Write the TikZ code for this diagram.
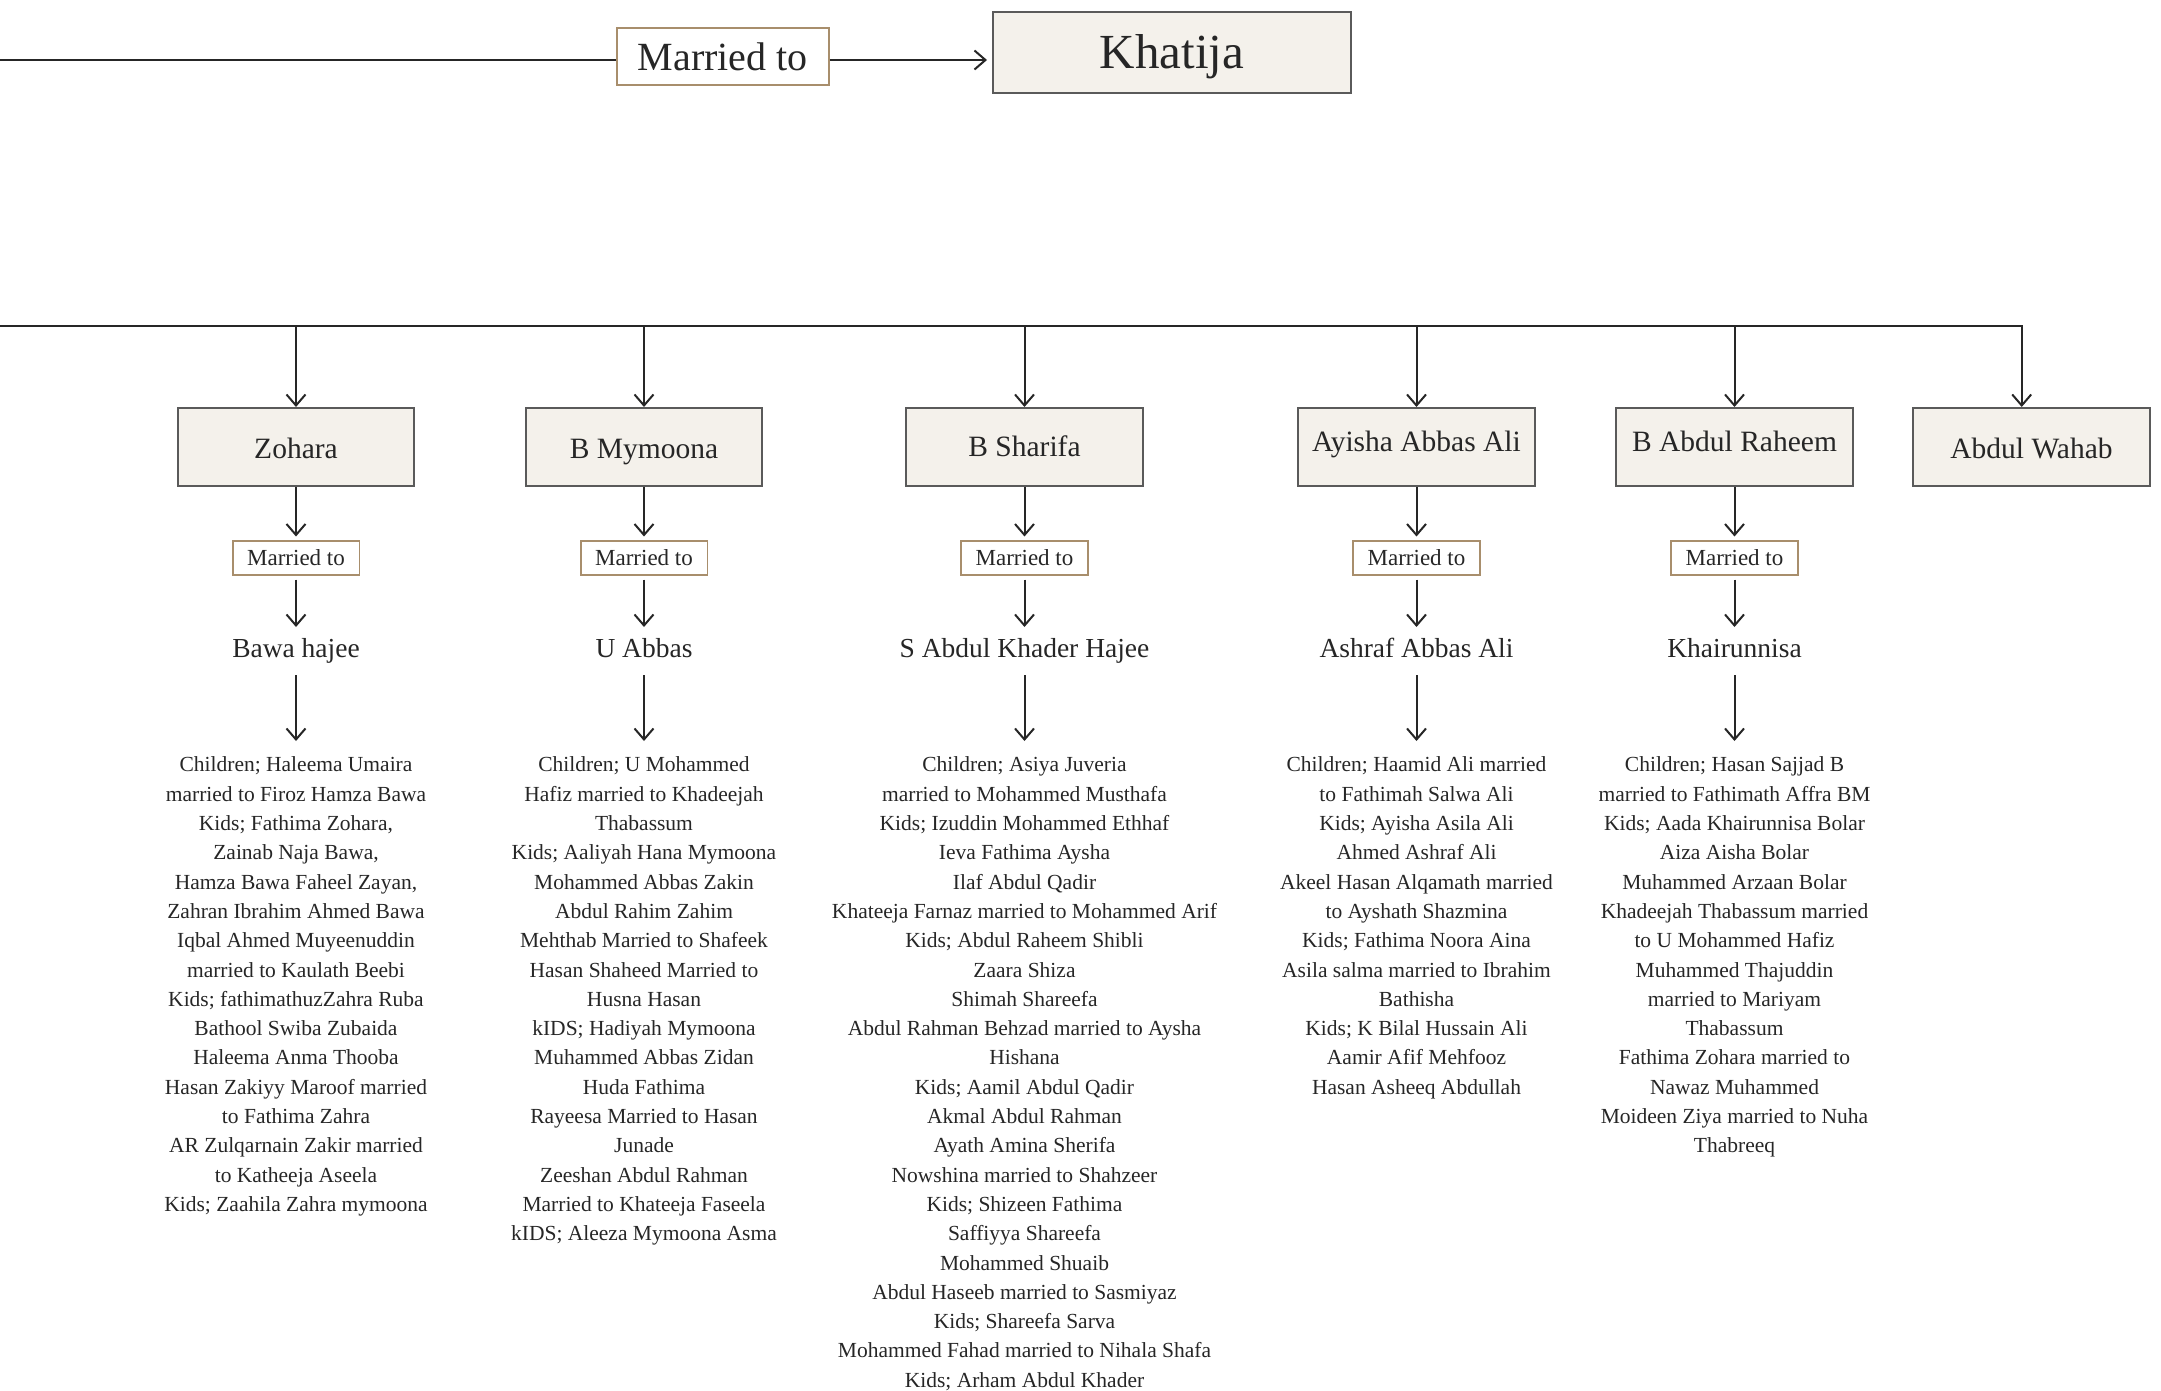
\documentclass[tikz,border=0pt]{standalone}
\usepackage{fontspec}
\setmainfont{Liberation Serif}
\usetikzlibrary{arrows.meta}
\definecolor{ink}{HTML}{262626}
\definecolor{boxfill}{HTML}{F4F1EB}
\definecolor{boxline}{HTML}{5A5A5A}
\definecolor{tanline}{HTML}{A88E6C}
\begin{document}
\begin{tikzpicture}[x=1pt,y=-1pt,
 conn/.style={draw=ink, line width=2pt},
 arr/.style={conn, -{Straight Barb[length=11pt,width=19pt]}},
 person/.style={draw=boxline, fill=boxfill, line width=1.8pt, minimum width=236.5pt, minimum height=78pt, inner sep=0pt, outer sep=1pt, text=ink, font=\fontsize{29.5}{34}\selectfont, text height=22pt, text depth=0pt},
 mbox/.style={draw=tanline, fill=white, line width=1.6pt, minimum width=126.6pt, minimum height=34pt, inner sep=0pt, outer sep=4.5pt, text=ink, font=\fontsize{23}{27}\selectfont, text height=15.4pt, text depth=0pt},
 topm/.style={draw=tanline, fill=white, line width=1.6pt, minimum width=212pt, minimum height=57pt, inner sep=0pt, outer sep=0.8pt, text=ink, font=\fontsize{40}{46}\selectfont, text height=26.6pt, text depth=0pt},
 khat/.style={draw=boxline, fill=boxfill, line width=1.8pt, minimum width=358pt, minimum height=81pt, inner sep=0pt, outer sep=6pt, text=ink, font=\fontsize{49}{56}\selectfont, text height=31pt, text depth=0pt},
 spouse/.style={anchor=base, inner xsep=2pt, inner ysep=11pt, outer sep=0pt, text height=19pt, text depth=7pt, text=ink, font=\fontsize{27.5}{32}\selectfont},
 kids/.style={anchor=north, align=center, inner xsep=2pt, inner ysep=16pt, outer sep=0pt, text=ink, font=\fontsize{21.5}{29.3}\selectfont},
]
\useasboundingbox (0,0) rectangle (2161,1390);

% top row
\coordinate (topL) at (0,60);
\node[topm] (m0) at (722.8,56.7) {Married to};
\node[khat] (khatija) at (1172,52.8) {Khatija};
\draw[conn] (topL) -- (topL -| m0.west);
\draw[arr] (topL -| m0.east) -- (topL -| khatija.west);

% children boxes
\node[person] (zohara) at (296,447) {Zohara};
\node[person] (mymoona) at (644,447) {B Mymoona};
\node[person, text depth=2.8pt] (sharifa) at (1024.5,447) {B Sharifa};
\node[person, text depth=12.6pt] (ayisha) at (1416.5,447) {Ayisha Abbas Ali};
\node[person, text depth=12.6pt] (raheem) at (1734.5,447) {B Abdul Raheem};
\node[person] (wahab) at (2031.5,447) {Abdul Wahab};

% bus
\coordinate (busL) at (0,326);
\coordinate (busR) at (2021.7,326);
\draw[arr] (busL) -- (busR) -- (busR |- wahab.north);
\foreach \n in {zohara,mymoona,sharifa,ayisha,raheem}{
  \draw[arr] (\n.north |- busL) -- (\n.north);
}

% married-to boxes
\node[mbox] (m1) at (296,558) {Married to};
\node[mbox] (m2) at (644,558) {Married to};
\node[mbox] (m3) at (1024.5,558) {Married to};
\node[mbox] (m4) at (1416.5,558) {Married to};
\node[mbox] (m5) at (1734.5,558) {Married to};

% spouses
\node[spouse] (s1) at (296,657) {Bawa hajee};
\node[spouse] (s2) at (644,657) {U Abbas};
\node[spouse] (s3) at (1024.5,657) {S Abdul Khader Hajee};
\node[spouse] (s4) at (1416.5,657) {Ashraf Abbas Ali};
\node[spouse] (s5) at (1734.5,657) {Khairunnisa};

% descendants
\node[kids] (k1) at (296,741) {Children; Haleema Umaira\\
married to Firoz Hamza Bawa\\
Kids; Fathima Zohara,\\
Zainab Naja Bawa,\\
Hamza Bawa Faheel Zayan,\\
Zahran Ibrahim Ahmed Bawa\\
Iqbal Ahmed Muyeenuddin\\
married to Kaulath Beebi\\
Kids; fathimathuzZahra Ruba\\
Bathool Swiba Zubaida\\
Haleema Anma Thooba\\
Hasan Zakiyy Maroof married\\
to Fathima Zahra\\
AR Zulqarnain Zakir married\\
to Katheeja Aseela\\
Kids; Zaahila Zahra mymoona};

\node[kids] (k2) at (644,741) {Children; U Mohammed\\
Hafiz married to Khadeejah\\
Thabassum\\
Kids; Aaliyah Hana Mymoona\\
Mohammed Abbas Zakin\\
Abdul Rahim Zahim\\
Mehthab Married to Shafeek\\
Hasan Shaheed Married to\\
Husna Hasan\\
kIDS; Hadiyah Mymoona\\
Muhammed Abbas Zidan\\
Huda Fathima\\
Rayeesa Married to Hasan\\
Junade\\
Zeeshan Abdul Rahman\\
Married to Khateeja Faseela\\
kIDS; Aleeza Mymoona Asma};

\node[kids] (k3) at (1024.5,741) {Children; Asiya Juveria\\
married to Mohammed Musthafa\\
Kids; Izuddin Mohammed Ethhaf\\
Ieva Fathima Aysha\\
Ilaf Abdul Qadir\\
Khateeja Farnaz married to Mohammed Arif\\
Kids; Abdul Raheem Shibli\\
Zaara Shiza\\
Shimah Shareefa\\
Abdul Rahman Behzad married to Aysha\\
Hishana\\
Kids; Aamil Abdul Qadir\\
Akmal Abdul Rahman\\
Ayath Amina Sherifa\\
Nowshina married to Shahzeer\\
Kids; Shizeen Fathima\\
Saffiyya Shareefa\\
Mohammed Shuaib\\
Abdul Haseeb married to Sasmiyaz\\
Kids; Shareefa Sarva\\
Mohammed Fahad married to Nihala Shafa\\
Kids; Arham Abdul Khader};

\node[kids] (k4) at (1416.5,741) {Children; Haamid Ali married\\
to Fathimah Salwa Ali\\
Kids; Ayisha Asila Ali\\
Ahmed Ashraf Ali\\
Akeel Hasan Alqamath married\\
to Ayshath Shazmina\\
Kids; Fathima Noora Aina\\
Asila salma married to Ibrahim\\
Bathisha\\
Kids; K Bilal Hussain Ali\\
Aamir Afif Mehfooz\\
Hasan Asheeq Abdullah};

\node[kids] (k5) at (1734.5,741) {Children; Hasan Sajjad B\\
married to Fathimath Affra BM\\
Kids; Aada Khairunnisa Bolar\\
Aiza Aisha Bolar\\
Muhammed Arzaan Bolar\\
Khadeejah Thabassum married\\
to U Mohammed Hafiz\\
Muhammed Thajuddin\\
married to Mariyam\\
Thabassum\\
Fathima Zohara married to\\
Nawaz Muhammed\\
Moideen Ziya married to Nuha\\
Thabreeq};

% vertical connectors
\foreach \p/\m/\s/\k in {zohara/m1/s1/k1, mymoona/m2/s2/k2, sharifa/m3/s3/k3, ayisha/m4/s4/k4, raheem/m5/s5/k5}{
  \draw[arr] (\p) -- (\m);
  \draw[arr] (\m) -- (\s);
  \draw[arr] (\s) -- (\k);
}
\end{tikzpicture}
\end{document}
